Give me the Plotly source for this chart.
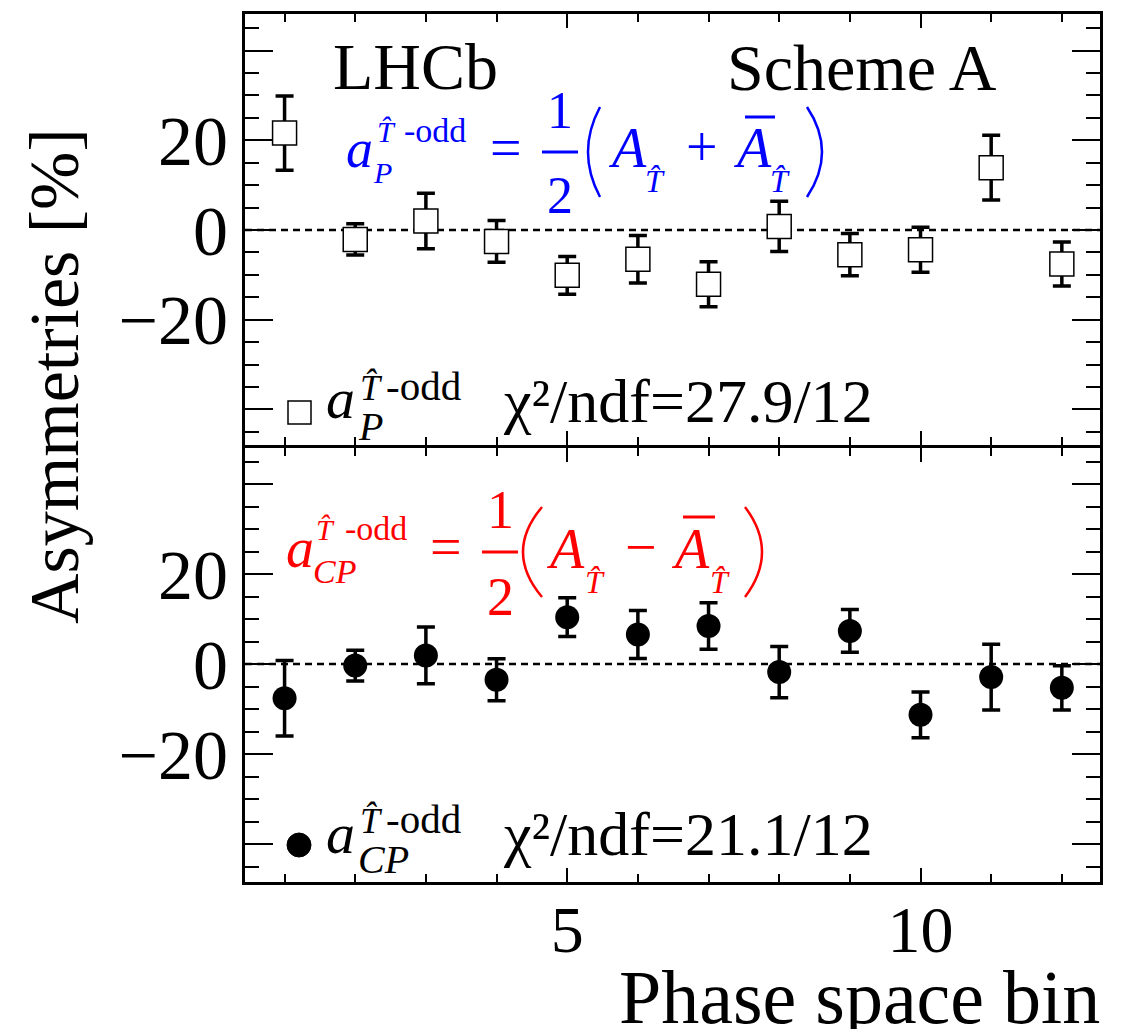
import plotly.graph_objects as go

# ---------------- data ----------------
bins = [1, 2, 3, 4, 5, 6, 7, 8, 9, 10, 11, 12]
aP = [21.6, -2.1, 2.0, -2.55, -10.1, -6.5, -12.1, 0.8, -5.5, -4.4, 13.9, -7.6]
aP_err = [8.3, 3.5, 6.2, 4.65, 4.2, 5.3, 5.0, 5.6, 4.7, 5.0, 7.2, 4.9]
aCP = [-7.6, -0.35, 1.9, -3.5, 10.4, 6.55, 8.45, -1.8, 7.35, -11.3, -2.9, -5.3]
aCP_err = [8.4, 3.4, 6.3, 4.65, 4.3, 5.35, 5.15, 5.7, 4.75, 5.1, 7.3, 4.9]
x_major_ticks = [5, 10]
y_major_ticks = [-40, -20, 0, 20, 40]
y_tick_text = ["", "\u221220", "0", "20", ""]
chi2_P = "χ²/ndf=27.9/12"
chi2_CP = "χ²/ndf=21.1/12"

SERIF = "'Liberation Serif', 'Times New Roman', Times, 'DejaVu Serif', serif"
BLUE = "#0000ff"
RED = "#ff0000"
W, H = 1124, 1029
L, R, T, B = 245, 1100, 14, 882   # plot area in pixels
TOP_BOTTOM = 444.5   # lower edge of the upper panel
BOT_TOP = 447.5      # upper edge of the lower panel


def px(X):
    return (X - L) / (R - L)


def py(Y):
    return (B - Y) / (B - T)


annotations = []
shapes = []


def txt(X, Ybase, s, size, color="black", anchor="left"):
    annotations.append(dict(
        x=px(X), y=py(Ybase - 0.3375 * size), xref="paper", yref="paper",
        text=s, showarrow=False, xanchor=anchor, yanchor="middle",
        borderpad=0, borderwidth=0,
        font=dict(family=SERIF, size=size, color=color)))


def hline(X0, X1, Y, color, width=3):
    shapes.append(dict(type="line", xref="paper", yref="paper",
                       x0=px(X0), x1=px(X1), y0=py(Y), y1=py(Y),
                       line=dict(color=color, width=width)))


def paren(Xend, Xmid, Ytop, Ybot, color):
    xc = 2 * Xmid - Xend
    yc = (Ytop + Ybot) / 2
    path = "M {:.5f},{:.5f} Q {:.5f},{:.5f} {:.5f},{:.5f}".format(
        px(Xend), py(Ytop), px(xc), py(yc), px(Xend), py(Ybot))
    shapes.append(dict(type="path", xref="paper", yref="paper", path=path,
                       line=dict(color=color, width=2.5)))


fig = go.Figure()

fig.add_trace(go.Scatter(
    x=bins, y=aP, mode="markers", xaxis="x2", yaxis="y2",
    marker=dict(symbol="square", size=24, color="white",
                line=dict(color="black", width=1.5)),
    error_y=dict(type="data", array=aP_err, visible=True,
                 color="black", thickness=3.5, width=9),
    showlegend=False))

fig.add_trace(go.Scatter(
    x=bins, y=aCP, mode="markers", xaxis="x", yaxis="y",
    marker=dict(symbol="circle", size=24, color="black",
                line=dict(color="black", width=0)),
    error_y=dict(type="data", array=aCP_err, visible=True,
                 color="black", thickness=3.5, width=9),
    showlegend=False))

# zero lines
for yref in ["y", "y2"]:
    shapes.append(dict(type="line", xref="paper", yref=yref,
                       x0=0, x1=1, y0=0, y1=0, layer="below",
                       line=dict(color="black", width=2.5, dash="7px,5px")))

# ----- top panel texts -----
txt(333, 89, "LHCb", 66)
txt(727, 90, "Scheme A", 66)

# blue formula
txt(346, 167, "<i>a</i>", 54, BLUE)
txt(373, 183, "<i>P</i>", 30, BLUE)
txt(377, 142, "<i>T\u0302</i>", 30, BLUE)
txt(404, 142, "-odd", 34, BLUE)
txt(490, 167, "=", 56, BLUE)
txt(560, 128, "1", 52, BLUE, "center")
hline(542, 578, 152, BLUE)
txt(560, 213, "2", 52, BLUE, "center")
paren(600, 588, 107, 197, BLUE)
txt(608, 167, "<i>A</i>", 56, BLUE)
txt(645, 192, "<i>T\u0302</i>", 32, BLUE)
txt(686, 166, "+", 56, BLUE)
txt(733, 167, "<i>A</i>", 56, BLUE)
hline(745, 775, 117, BLUE)
txt(770, 192, "<i>T\u0302</i>", 32, BLUE)
paren(807, 822, 107, 197, BLUE)

# top legend
shapes.append(dict(type="rect", xref="paper", yref="paper",
                   x0=px(288), x1=px(311), y0=py(401), y1=py(424),
                   fillcolor="white", line=dict(color="black", width=1.5)))
txt(326, 418, "<i>a</i>", 58)
txt(358, 440, "<i>P</i>", 40)
txt(360, 400, "<i>T\u0302</i>", 36)
txt(386, 400, "-odd", 41)
txt(503, 422, chi2_P, 62)

# ----- bottom panel texts -----
txt(286, 567, "<i>a</i>", 56, RED)
txt(313, 583, "<i>CP</i>", 34, RED)
txt(316, 540, "<i>T\u0302</i>", 30, RED)
txt(345, 540, "-odd", 34, RED)
txt(430, 566, "=", 56, RED)
txt(500, 528, "1", 54, RED, "center")
hline(482, 518, 552, RED)
txt(500, 615, "2", 54, RED, "center")
paren(542, 523, 507, 597, RED)
txt(546, 568, "<i>A</i>", 56, RED)
txt(585, 593, "<i>T\u0302</i>", 32, RED)
txt(625, 566, "\u2212", 56, RED)
txt(671, 568, "<i>A</i>", 56, RED)
hline(683, 715, 517, RED)
txt(710, 593, "<i>T\u0302</i>", 32, RED)
paren(745, 762, 507, 597, RED)

# bottom legend
shapes.append(dict(type="circle", xref="paper", yref="paper",
                   x0=px(287), x1=px(311), y0=py(833), y1=py(857),
                   fillcolor="black", line=dict(color="black", width=1)))
txt(326, 853, "<i>a</i>", 58)
txt(358, 873, "<i>CP</i>", 40)
txt(360, 833, "<i>T\u0302</i>", 36)
txt(386, 833, "-odd", 41)
txt(503, 855, chi2_CP, 62)

# axis titles
annotations.append(dict(
    x=px(54), y=py(376), xref="paper", yref="paper", text="Asymmetries [%]",
    textangle=-90, showarrow=False, xanchor="center", yanchor="middle",
    font=dict(family=SERIF, size=70, color="black")))
txt(1100, 1023, "Phase space bin", 76, anchor="right")

xcommon = dict(range=[0.44, 12.54], tickmode="array", tickvals=x_major_ticks,
               ticks="inside", ticklen=14, tickwidth=2, tickcolor="black",
               minor=dict(dtick=1, tick0=0, ticks="inside", ticklen=8,
                          tickwidth=2, tickcolor="black"),
               showline=True, linewidth=3, linecolor="black", mirror="ticks",
               showgrid=False, zeroline=False,
               tickfont=dict(family=SERIF, size=66, color="black"))
ycommon = dict(tickmode="array", tickvals=y_major_ticks, ticktext=y_tick_text,
               ticks="inside", ticklen=28, tickwidth=2, tickcolor="black",
               minor=dict(dtick=5, tick0=0, ticks="inside", ticklen=14,
                          tickwidth=2, tickcolor="black"),
               showline=True, linewidth=3, linecolor="black", mirror="ticks",
               showgrid=False, zeroline=False,
               tickfont=dict(family=SERIF, size=70, color="black"))

# y ranges chosen so that 0 sits at the same height as in the reference
top_scale = 4.485   # px per percent, upper panel
bot_scale = 4.5     # px per percent, lower panel
top_range = [-(TOP_BOTTOM - 230) / top_scale, (230 - T) / top_scale]
bot_range = [-(B - 664) / bot_scale, (664 - BOT_TOP) / bot_scale]

fig.update_layout(
    width=W, height=H,
    margin=dict(l=L, r=W - R, t=T, b=H - B, pad=0),
    paper_bgcolor="white", plot_bgcolor="white",
    font=dict(family=SERIF),
    xaxis=dict(**xcommon, anchor="y", domain=[0, 1], ticklabelstandoff=-12),
    xaxis2=dict(**xcommon, anchor="y2", domain=[0, 1], matches="x",
                showticklabels=False),
    yaxis=dict(**ycommon, range=bot_range, domain=[0, py(BOT_TOP)], anchor="x"),
    yaxis2=dict(**ycommon, range=top_range, domain=[py(TOP_BOTTOM), 1],
                anchor="x2"),
    annotations=annotations, shapes=shapes, showlegend=False,
)

fig.write_html("out.html")
